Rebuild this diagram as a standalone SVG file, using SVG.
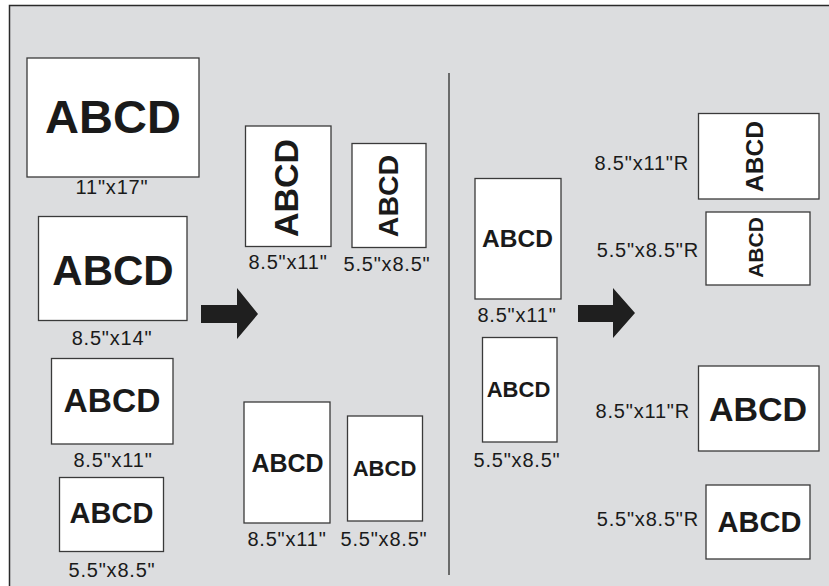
<svg xmlns="http://www.w3.org/2000/svg" width="829" height="586" viewBox="0 0 829 586">
<style>
.sheet{fill:#fff;stroke:#3a3a3a;stroke-width:1.3}
.big{font-family:"Liberation Sans",Arial,sans-serif;font-weight:bold;fill:#1a1a1a;text-anchor:middle}
.lbl{font-family:"Liberation Sans",Arial,sans-serif;font-size:20px;letter-spacing:0.8px;fill:#1a1a1a;text-anchor:middle}
.lblr{font-family:"Liberation Sans",Arial,sans-serif;font-size:20px;letter-spacing:0.8px;fill:#1a1a1a;text-anchor:end}
.arrow{fill:#1f1f1f}
</style>
<rect x="0" y="0" width="829" height="586" fill="#fff"/>
<rect id="frame" x="9.5" y="5.5" width="830" height="600" fill="#dcdddf" stroke="#2a2a2a" stroke-width="1.5"/>
<line id="divider" x1="449" y1="73" x2="449" y2="575" stroke="#444" stroke-width="1.5"/>

<g id="src-11x17">
<rect class="sheet" x="27" y="58" width="172" height="119"/>
<text class="big" x="113" y="133" font-size="47">ABCD</text>
<text class="lbl" x="112" y="194">11"x17"</text>
</g>
<g id="src-8.5x14">
<rect class="sheet" x="38.5" y="216.5" width="148.5" height="104"/>
<text class="big" x="113" y="285" font-size="42">ABCD</text>
<text class="lbl" x="112" y="345">8.5"x14"</text>
</g>
<g id="src-8.5x11">
<rect class="sheet" x="51.5" y="358.5" width="121.5" height="85.5"/>
<text class="big" x="112" y="412" font-size="33.5">ABCD</text>
<text class="lbl" x="113" y="467">8.5"x11"</text>
</g>
<g id="src-5.5x8.5">
<rect class="sheet" x="59.5" y="477.5" width="104" height="74"/>
<text class="big" x="111.5" y="523" font-size="29">ABCD</text>
<text class="lbl" x="112" y="577">5.5"x8.5"</text>
</g>

<g id="out-a-8.5x11">
<rect class="sheet" x="245.5" y="126" width="85.5" height="120.5"/>
<text class="big" transform="translate(298,188) rotate(-90)" font-size="34">ABCD</text>
<text class="lbl" x="288" y="269">8.5"x11"</text>
</g>
<g id="out-a-5.5x8.5">
<rect class="sheet" x="352" y="143.5" width="74" height="104"/>
<text class="big" transform="translate(398,196) rotate(-90)" font-size="28.5">ABCD</text>
<text class="lbl" x="387" y="271">5.5"x8.5"</text>
</g>
<g id="out-b-8.5x11">
<rect class="sheet" x="244" y="402" width="86" height="121"/>
<text class="big" x="287.5" y="472" font-size="25">ABCD</text>
<text class="lbl" x="287" y="546">8.5"x11"</text>
</g>
<g id="out-b-5.5x8.5">
<rect class="sheet" x="347.5" y="416" width="75" height="105"/>
<text class="big" x="384.5" y="476" font-size="22">ABCD</text>
<text class="lbl" x="384" y="546">5.5"x8.5"</text>
</g>

<g id="src2-8.5x11">
<rect class="sheet" x="475" y="178.5" width="86" height="120.5"/>
<text class="big" x="517.5" y="247" font-size="24.5">ABCD</text>
<text class="lbl" x="517" y="322">8.5"x11"</text>
</g>
<g id="src2-5.5x8.5">
<rect class="sheet" x="482.5" y="337.5" width="74.5" height="104.5"/>
<text class="big" x="518.5" y="397" font-size="22">ABCD</text>
<text class="lbl" x="517" y="467">5.5"x8.5"</text>
</g>

<g id="out-c-8.5x11R">
<rect class="sheet" x="698.5" y="113.5" width="120.5" height="85.5"/>
<text class="big" transform="translate(763,156.5) rotate(-90)" font-size="24.5">ABCD</text>
<text class="lblr" x="689" y="170">8.5"x11"R</text>
</g>
<g id="out-c-5.5x8.5R">
<rect class="sheet" x="706" y="212" width="104" height="73"/>
<text class="big" transform="translate(763,247.5) rotate(-90)" font-size="21">ABCD</text>
<text class="lblr" x="699" y="257">5.5"x8.5"R</text>
</g>
<g id="out-d-8.5x11R">
<rect class="sheet" x="698.5" y="366" width="120.5" height="85"/>
<text class="big" x="758" y="421" font-size="34">ABCD</text>
<text class="lblr" x="690" y="418">8.5"x11"R</text>
</g>
<g id="out-d-5.5x8.5R">
<rect class="sheet" x="706" y="485" width="104" height="74"/>
<text class="big" x="759.5" y="532" font-size="29">ABCD</text>
<text class="lblr" x="699" y="526">5.5"x8.5"R</text>
</g>

<g id="connectors">
<polygon class="arrow" points="201,305 237,305 237,288 258,314 237,339 237,323 201,323"/>
<polygon class="arrow" points="578,305 613,305 613,288 635,313 613,338 613,322 578,322"/>
</g>
</svg>
